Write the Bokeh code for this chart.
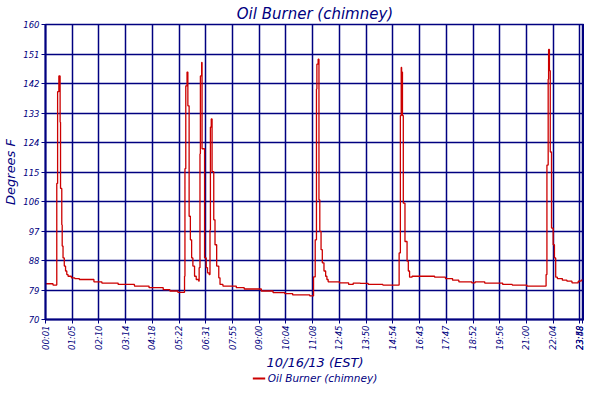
import math
from bokeh.plotting import figure
from bokeh.layouts import column
from bokeh.models import FixedTicker, Range1d
from bokeh.embed import file_html
from bokeh.resources import INLINE

# ---- data (sample index, degrees F) ----
sample_idx = [0, 18, 27, 29, 32, 35, 36, 39, 40, 42, 45, 48, 51, 54, 62, 70, 81, 116, 135, 174,
              213, 248, 282, 298, 317, 333, 334, 336, 339, 341, 344, 347, 350, 353, 357, 361,
              367, 368, 370, 371, 374, 375, 381, 385, 388, 392, 394, 395, 397, 399, 403, 406,
              410, 415, 418, 425, 436, 457, 476, 517, 545, 573, 592, 633, 642, 646, 649, 650,
              653, 655, 657, 660, 663, 667, 671, 674, 677, 704, 726, 737, 754, 773, 808, 847,
              850, 852, 853, 855, 857, 861, 866, 869, 872, 878, 932, 958, 975, 990, 1021, 1029,
              1052, 1095, 1118, 1153, 1199, 1201, 1204, 1205, 1207, 1209, 1212, 1216, 1219,
              1222, 1226, 1238, 1249, 1261, 1276, 1283, 1286]
temp_f = [80.9, 80.5, 111.5, 139.5, 144.3, 130.2, 110.0, 98.9, 92.4, 88.8, 86.3, 84.8, 83.7,
          83.2, 82.7, 82.5, 82.2, 81.5, 81.1, 80.7, 80.2, 79.7, 79.1, 78.7, 78.3, 83.2, 116.0,
          141.3, 145.5, 135.2, 101.5, 94.3, 88.8, 86.3, 83.2, 82.2, 81.7, 85.8, 120.6, 144.3,
          148.4, 122.1, 88.8, 85.8, 84.2, 83.7, 97.4, 128.7, 131.2, 115.1, 100.4, 92.8, 86.3,
          82.7, 80.7, 80.2, 80.2, 79.7, 79.3, 78.7, 78.2, 77.9, 77.5, 77.2, 83.0, 94.3, 140.3,
          147.9, 149.4, 106.5, 96.9, 91.3, 87.3, 84.8, 83.2, 82.2, 81.5, 81.2, 80.7, 81.1,
          81.0, 80.7, 80.5, 90.3, 132.2, 146.9, 145.5, 132.2, 105.5, 93.8, 87.8, 84.8, 82.9,
          83.2, 82.9, 82.5, 82.0, 81.5, 81.2, 81.5, 81.1, 80.7, 80.5, 80.2, 83.7, 117.1, 143.3,
          152.4, 145.9, 121.1, 97.9, 92.8, 88.8, 82.9, 82.5, 82.0, 81.7, 81.2, 81.7, 82.0, 82.0]

x_tick_pos = [0, 64, 128, 192, 256, 320, 384, 448, 512, 576, 640, 704, 768, 832, 896, 960,
              1024, 1088, 1152, 1216, 1280, 1286]
x_tick_labels = ["00:01", "01:05", "02:10", "03:14", "04:18", "05:22", "06:31", "07:55",
                 "09:00", "10:04", "11:08", "12:45", "13:50", "14:54", "16:43", "17:47",
                 "18:52", "19:56", "21:00", "22:04", "23:48", "23:58"]
y_ticks = [70, 79, 88, 97, 106, 115, 124, 133, 142, 151, 160]
series_name = "Oil Burner (chimney)"

NAVY = "#000080"
RED = "#CC0000"
FONT = "DejaVu Sans"

p = figure(width=584, height=372, output_backend="svg", toolbar_location=None,
           x_range=Range1d(0, 1291), y_range=Range1d(70, 160),
           min_border_left=30, min_border_right=0, min_border_top=0, min_border_bottom=40,
           title=series_name)

p.title.align = "center"
p.title.text_font = FONT
p.title.text_font_style = "italic"
p.title.text_font_size = "15px"
p.title.text_color = NAVY
p.title.standoff = 4

p.step(sample_idx, temp_f, mode="after", line_color=RED, line_width=1.3)

p.xaxis.ticker = FixedTicker(ticks=x_tick_pos)
p.xaxis.major_label_overrides = {t: l for t, l in zip(x_tick_pos, x_tick_labels)}
p.xaxis.major_label_orientation = math.pi / 2
p.yaxis.ticker = FixedTicker(ticks=y_ticks)

for ax in (p.xaxis[0], p.yaxis[0]):
    ax.axis_line_color = NAVY
    ax.axis_line_width = 2
    ax.major_tick_line_color = NAVY
    ax.major_tick_out = 4
    ax.major_tick_in = 0
    ax.minor_tick_line_color = None
    ax.major_label_text_font = FONT
    ax.major_label_text_font_style = "italic"
    ax.major_label_text_font_size = "8.5px"
    ax.major_label_text_color = NAVY
    ax.major_label_standoff = 2
    ax.axis_label_text_font = FONT
    ax.axis_label_text_font_style = "italic"
    ax.axis_label_text_font_size = "13px"
    ax.axis_label_text_color = NAVY

p.xaxis.axis_label = "10/16/13 (EST)"
p.yaxis.axis_label = "Degrees F"
p.xaxis.axis_label_standoff = 2
p.yaxis.axis_label_standoff = 2

for g in (p.xgrid[0], p.ygrid[0]):
    g.grid_line_color = NAVY
    g.grid_line_width = 1.5
    g.grid_line_alpha = 1

p.outline_line_color = NAVY
p.outline_line_width = 1.5
p.background_fill_color = "white"
p.border_fill_color = "white"

# ---- legend strip below the chart (its renderer lies outside the strip's ranges) ----
lg = figure(width=584, height=12, output_backend="svg", toolbar_location=None,
            x_range=Range1d(0, 1), y_range=Range1d(0, 1),
            min_border=0, outline_line_color=None)
lg.axis.visible = False
lg.grid.visible = False
lg.line([5, 6], [5, 5], line_color=RED, line_width=2, legend_label=series_name)
lg.legend.location = "center"
lg.legend.orientation = "horizontal"
lg.legend.border_line_alpha = 0
lg.legend.background_fill_alpha = 0
lg.legend.label_text_font = FONT
lg.legend.label_text_font_style = "italic"
lg.legend.label_text_font_size = "10.5px"
lg.legend.label_text_color = NAVY
lg.legend.label_height = 10
lg.legend.glyph_width = 13
lg.legend.glyph_height = 10
lg.legend.padding = 0
lg.legend.margin = 0
lg.legend.spacing = 0
lg.legend.label_standoff = 3

layout = column(p, lg, spacing=0)
open("out.html", "w").write(file_html(layout, INLINE))
